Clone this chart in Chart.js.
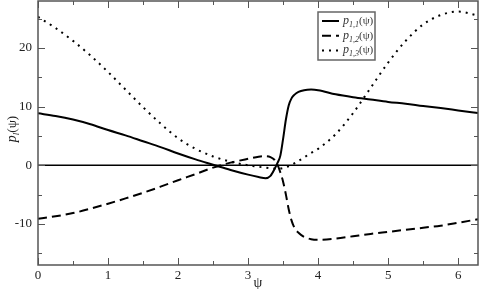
<!DOCTYPE html>
<html lang="en">
<head>
  <meta charset="UTF-8" />
  <title>p_l(psi)</title>
  <style>
    body { margin: 0; padding: 0; background: #fff; }
    #wrap { width: 479px; height: 289px; }
  </style>
</head>
<body>
  <div id="wrap"><canvas id="chart" width="479" height="289"></canvas></div>

  <script src="https://cdn.jsdelivr.net/npm/chart.js"></script>
  <script>
    // values
    const psi = [0, 0.25, 0.5, 0.75, 1.0, 1.25, 1.5, 1.75, 2.0, 2.25, 2.5, 2.75, 3.0, 3.15, 3.25, 3.32, 3.38,
                 3.42, 3.46, 3.5, 3.54, 3.58, 3.62, 3.66, 3.72, 3.8, 3.9, 4.0, 4.25, 4.5, 4.75, 5.0, 5.25, 5.5,
                 5.75, 6.0, 6.283];
    const p11 = [8.85, 8.4, 7.8, 7.0, 6.0, 5.1, 4.1, 3.1, 2.0, 1.0, 0.1, -0.8, -1.6, -2.0, -2.2, -1.8, -0.6,
                 0.4, 1.6, 4.5, 7.8, 10.2, 11.4, 12.0, 12.5, 12.8, 12.9, 12.8, 12.1, 11.6, 11.2, 10.8, 10.5, 10.1,
                 9.75, 9.35, 8.9];
    const p12 = [-9.1, -8.7, -8.15, -7.4, -6.55, -5.65, -4.7, -3.65, -2.55, -1.5, -0.4, 0.45, 1.1, 1.45, 1.55, 1.4, 0.9,
                 0.1, -1.2, -2.8, -5.0, -7.5, -9.4, -10.6, -11.5, -12.2, -12.6, -12.7, -12.5, -12.1, -11.7, -11.35, -11.0, -10.65,
                 -10.3, -9.8, -9.2];
    const psiDot = [0, 0.25, 0.5, 0.75, 1.0, 1.25, 1.5, 1.75, 2.0, 2.25, 2.5, 2.75, 3.0, 3.25, 3.42, 3.55, 3.7,
                    3.9, 4.0, 4.25, 4.5, 4.75, 5.0, 5.25, 5.5, 5.75, 6.0, 6.283];
    const p13 = [25.3, 23.4, 21.2, 18.7, 15.9, 12.9, 9.9, 7.1, 4.6, 2.8, 1.5, 0.6, 0.0, -0.4, -0.6, -0.3, 0.6,
                 2.1, 2.8, 5.3, 8.9, 13.2, 17.5, 21.2, 24.0, 25.6, 26.2, 25.5];

    const xTicks = [0, 1, 2, 3, 4, 5, 6];
    const xMinor = [0.5, 1.5, 2.5, 3.5, 4.5, 5.5];
    const yTicks = [-10, 0, 10, 20];
    const yMinor = [-15, -5, 5, 15, 25];
    const seriesNames = [['1,1', 'solid'], ['1,2', 'dash'], ['1,3', 'dot']];

    const serif = "'Liberation Serif', 'Times New Roman', serif";
    const dashes = { solid: [], dash: [9, 5], dot: [2, 5] };

    const pts = (xs, ys) => xs.map((x, i) => ({ x: x, y: ys[i] }));

    const axesPlugin = {
      id: 'axesPlugin',
      beforeDatasetsDraw(chart) {
        const { ctx, chartArea: a, scales: { y } } = chart;
        const y0 = y.getPixelForValue(0);
        ctx.save();
        ctx.strokeStyle = '#000';
        ctx.lineWidth = 1.5;
        ctx.beginPath();
        ctx.moveTo(a.left, y0);
        ctx.lineTo(a.right, y0);
        ctx.stroke();
        ctx.restore();
      },
      afterDatasetsDraw(chart) {
        const { ctx, chartArea: a, scales: { x, y } } = chart;
        ctx.save();
        ctx.strokeStyle = '#555';
        ctx.lineWidth = 1.5;
        ctx.strokeRect(a.left, a.top, a.right - a.left, a.bottom - a.top);

        // inward ticks on all four sides
        ctx.lineWidth = 1;
        ctx.beginPath();
        const xt = (v, len) => {
          const px = Math.round(x.getPixelForValue(v)) + 0.5;
          ctx.moveTo(px, a.bottom); ctx.lineTo(px, a.bottom - len);
          ctx.moveTo(px, a.top); ctx.lineTo(px, a.top + len);
        };
        const yt = (v, len) => {
          const py = Math.round(y.getPixelForValue(v)) + 0.5;
          ctx.moveTo(a.left, py); ctx.lineTo(a.left + len, py);
          ctx.moveTo(a.right, py); ctx.lineTo(a.right - len, py);
        };
        xTicks.forEach(v => xt(v, 7));
        xMinor.forEach(v => xt(v, 4));
        yTicks.forEach(v => yt(v, 7));
        yMinor.forEach(v => yt(v, 4));
        ctx.stroke();

        // legend box
        const lx = 318, ly = 12, lw = 57, lh = 48;
        ctx.fillStyle = '#fff';
        ctx.fillRect(lx, ly, lw, lh);
        ctx.strokeStyle = '#666';
        ctx.lineWidth = 1.5;
        ctx.strokeRect(lx, ly, lw, lh);
        seriesNames.forEach((s, i) => {
          const cy = ly + 9 + i * 14.7;
          ctx.strokeStyle = '#000';
          ctx.lineWidth = 2;
          ctx.setLineDash(dashes[s[1]]);
          ctx.beginPath();
          ctx.moveTo(lx + 4, cy);
          ctx.lineTo(lx + 21, cy);
          ctx.stroke();
          ctx.setLineDash([]);
          ctx.fillStyle = '#333';
          ctx.textBaseline = 'alphabetic';
          let tx = lx + 25;
          ctx.font = 'italic 12px ' + serif;
          ctx.fillText('p', tx, cy + 3);
          tx += ctx.measureText('p').width;
          ctx.font = 'italic 8px ' + serif;
          ctx.fillText(s[0], tx, cy + 6);
          tx += ctx.measureText(s[0]).width;
          ctx.font = '11px ' + serif;
          ctx.fillText('(\u03c8)', tx, cy + 3);
        });

        // axis titles
        ctx.fillStyle = '#222';
        ctx.font = '14px ' + serif;
        ctx.textAlign = 'center';
        ctx.fillText('\u03c8', (a.left + a.right) / 2, 287);

        ctx.translate(16, (a.top + a.bottom) / 2 - 4);
        ctx.rotate(-Math.PI / 2);
        ctx.textAlign = 'left';
        ctx.font = 'italic 14px ' + serif;
        const w1 = ctx.measureText('p').width;
        ctx.font = 'italic 9px ' + serif;
        const w2 = ctx.measureText('l').width;
        ctx.font = '13px ' + serif;
        const w3 = ctx.measureText('(\u03c8)').width;
        let tx = -(w1 + w2 + w3) / 2;
        ctx.font = 'italic 14px ' + serif;
        ctx.fillText('p', tx, 0);
        tx += w1;
        ctx.font = 'italic 9px ' + serif;
        ctx.fillText('l', tx, 3);
        tx += w2;
        ctx.font = '13px ' + serif;
        ctx.fillText('(\u03c8)', tx, 0);
        ctx.restore();
      }
    };

    const lineSet = (data, dash) => ({
      data: data,
      borderColor: '#000',
      borderWidth: 2,
      borderDash: dash,
      pointRadius: 0,
      fill: false,
      cubicInterpolationMode: 'monotone'
    });

    new Chart(document.getElementById('chart'), {
      type: 'line',
      data: {
        datasets: [
          lineSet(pts(psi, p11), dashes.solid),
          lineSet(pts(psi, p12), dashes.dash),
          lineSet(pts(psiDot, p13), dashes.dot)
        ]
      },
      options: {
        responsive: false,
        animation: false,
        layout: { padding: { top: 1, right: 1, left: 0, bottom: 0 } },
        plugins: { legend: { display: false }, tooltip: { enabled: false } },
        scales: {
          x: {
            type: 'linear',
            min: 0,
            max: 2 * Math.PI,
            grid: { display: false, drawTicks: false },
            border: { display: false },
            afterBuildTicks: s => { s.ticks = xTicks.map(v => ({ value: v })); },
            afterFit: s => { s.height = 24; s.paddingLeft = 0; s.paddingRight = 0; },
            ticks: { padding: 3, color: '#222', maxRotation: 0, font: { family: serif, size: 13 } }
          },
          y: {
            min: -17,
            max: 28,
            grid: { display: false, drawTicks: false },
            border: { display: false },
            afterBuildTicks: s => { s.ticks = yTicks.map(v => ({ value: v })); },
            afterFit: s => { s.width = 38; s.paddingTop = 0; s.paddingBottom = 0; },
            ticks: { padding: 6, color: '#222', font: { family: serif, size: 13 } }
          }
        }
      },
      plugins: [axesPlugin]
    });
  </script>
</body>
</html>
